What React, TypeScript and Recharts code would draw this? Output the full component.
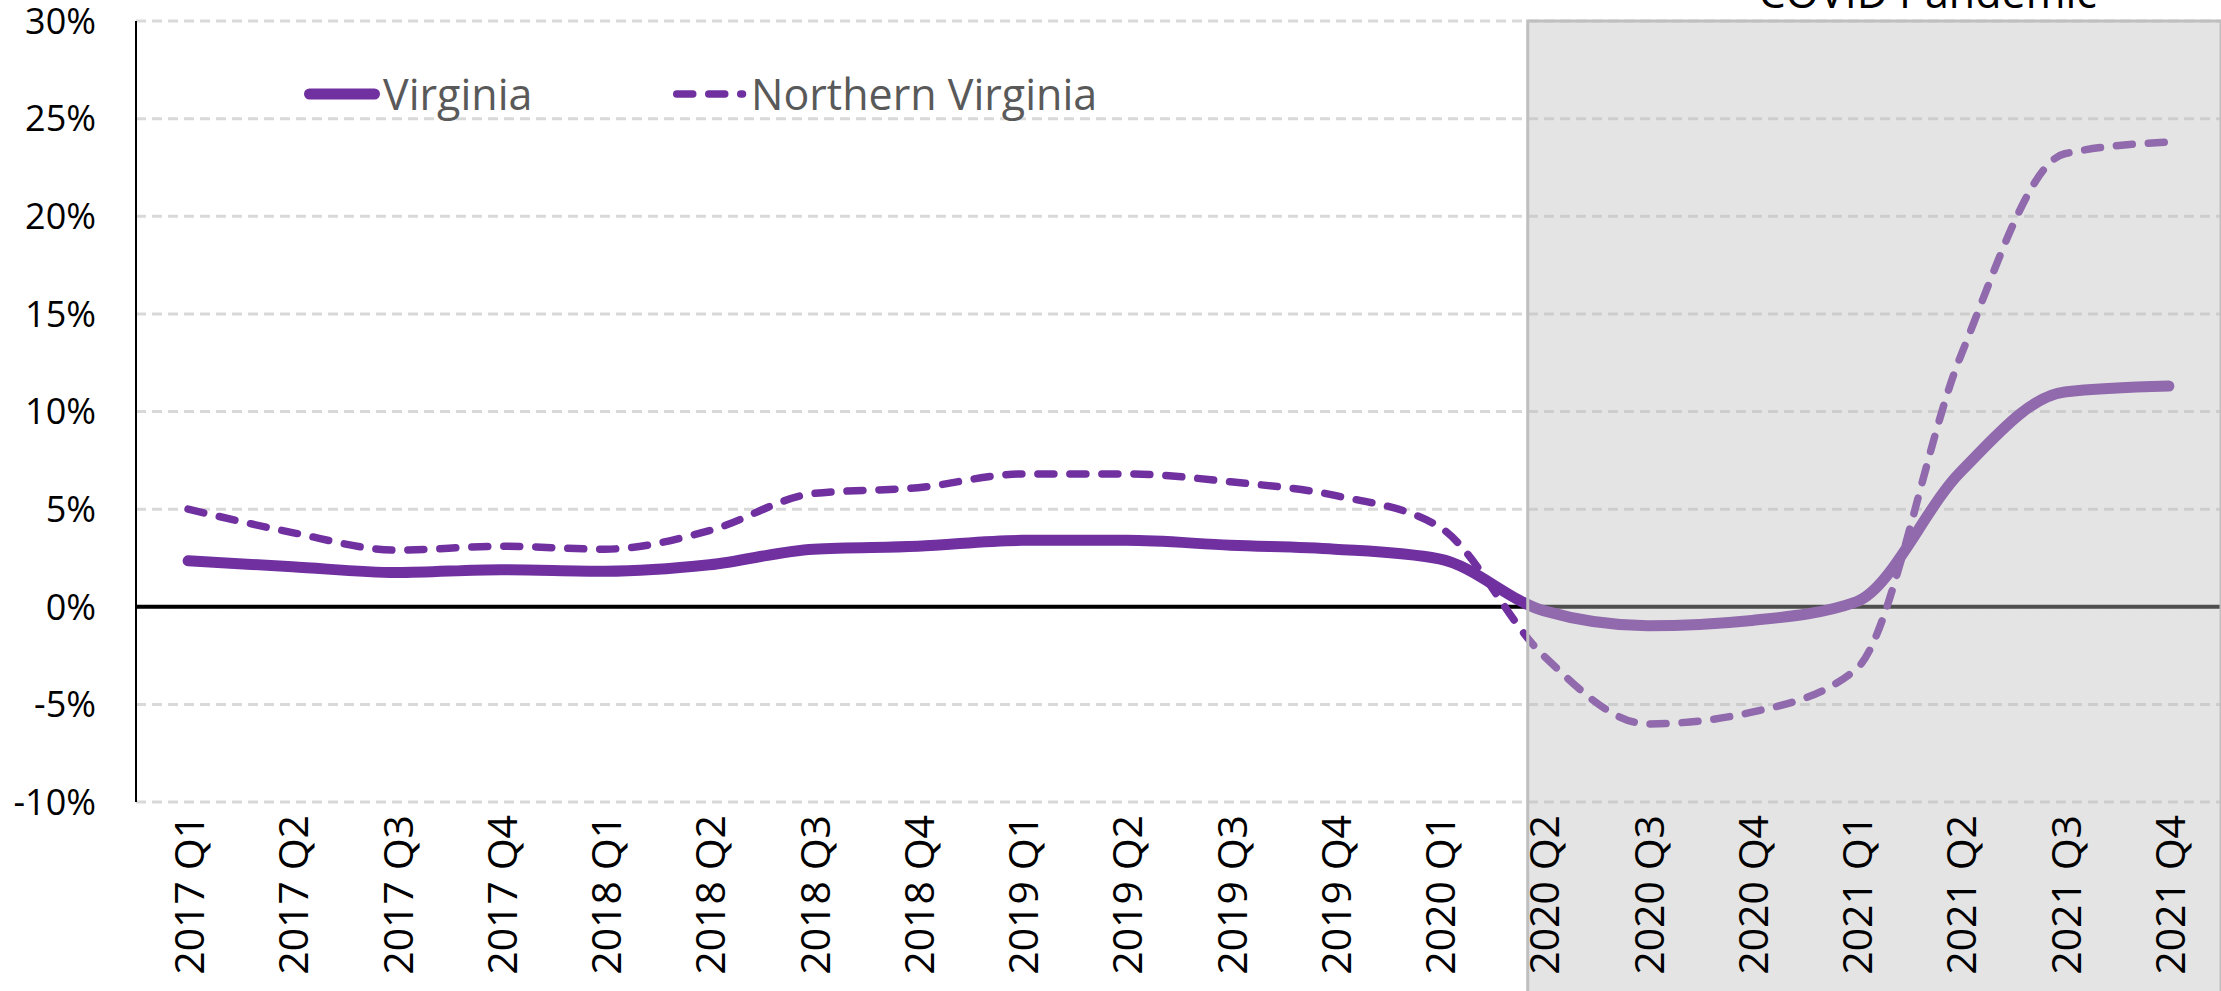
import React from 'react';
import { LineChart, Line, XAxis, YAxis, CartesianGrid, ReferenceLine, ReferenceArea, Legend } from 'recharts';

const quarters = [
  '2017 Q1', '2017 Q2', '2017 Q3', '2017 Q4',
  '2018 Q1', '2018 Q2', '2018 Q3', '2018 Q4',
  '2019 Q1', '2019 Q2', '2019 Q3', '2019 Q4',
  '2020 Q1', '2020 Q2', '2020 Q3', '2020 Q4',
  '2021 Q1', '2021 Q2', '2021 Q3', '2021 Q4',
];
const virginia = [2.35, 2.05, 1.75, 1.9, 1.82, 2.15, 2.95, 3.1, 3.4, 3.4, 3.15, 2.95, 2.45, -0.2, -0.97, -0.7, 0.25, 6.9, 11.0, 11.3];
const northernVirginia = [5.0, 3.8, 2.9, 3.1, 2.95, 3.9, 5.8, 6.1, 6.8, 6.8, 6.4, 5.7, 4.1, -2.5, -6.0, -5.4, -3.2, 12.8, 23.2, 23.8];
const yTicks = [-10, -5, 0, 5, 10, 15, 20, 25, 30];
const seriesNames = ['Virginia', 'Northern Virginia'];
const pandemicLabel = 'COVID Pandemic';
const pandemicStart = 12.85;
const pandemicEnd = 19.5;

const data = quarters.map((q, i) => ({ idx: i, q, va: virginia[i], nova: northernVirginia[i] }));
const xTicks = quarters.map((_, i) => i);

const FONT = '"Open Sans", "Noto Sans", sans-serif';
const PURPLE = '#7030A0';

const XTick = (props: any) => {
  const { x, y, payload } = props;
  return (
    <text
      x={x}
      y={y}
      transform={`rotate(-90 ${x} ${y})`}
      textAnchor="end"
      dominantBaseline="central"
      fontFamily={FONT}
      fontSize={41}
      fill="#000"
    >
      {quarters[payload.value]}
    </text>
  );
};

const LegendContent = () => (
  <div style={{ display: 'flex', alignItems: 'center', fontFamily: FONT, fontSize: 43, color: '#595959', lineHeight: 1 }}>
    <div style={{ display: 'flex', alignItems: 'center', width: 369 }}>
      <svg width={79} height={20} style={{ display: 'block' }}>
        <line x1={5.5} y1={10} x2={70.5} y2={10} stroke={PURPLE} strokeWidth={11} strokeLinecap="round" />
      </svg>
      <span>{seriesNames[0]}</span>
    </div>
    <div style={{ display: 'flex', alignItems: 'center' }}>
      <svg width={78} height={20} style={{ display: 'block' }}>
        <line x1={3.75} y1={10} x2={69.5} y2={10} stroke={PURPLE} strokeWidth={7.5} strokeLinecap="round" strokeDasharray="16 16" />
      </svg>
      <span>{seriesNames[1]}</span>
    </div>
  </div>
);

const PandemicLabel = (p: any) => {
  const vb = p.viewBox || {};
  return (
    <text x={(vb.x || 0) + 400} y={(vb.y || 0) - 13} textAnchor="middle" fontFamily={FONT} fontSize={43} fill="#000">
      {pandemicLabel}
    </text>
  );
};

export default function App() {
  return (
    <div style={{ position: 'absolute', left: 0, top: 0, width: 2221, height: 991, background: '#fff' }}>
      <LineChart width={2221} height={991} data={data} margin={{ top: 21, right: 0, bottom: 0, left: 0 }}>
        <CartesianGrid horizontal vertical={false} stroke="#D9D9D9" strokeWidth={3} strokeDasharray="10 6" />
        <YAxis
          type="number"
          domain={[-10, 30]}
          ticks={yTicks}
          interval={0}
          width={136}
          tickFormatter={(v: number) => `${v}%`}
          tick={{ fontFamily: FONT, fontSize: 36, fill: '#000' }}
          axisLine={{ stroke: '#000', strokeWidth: 2 }}
          tickLine={false}
          tickSize={0}
          tickMargin={40}
        />
        <XAxis
          dataKey="idx"
          type="number"
          domain={[-0.5, 19.5]}
          ticks={xTicks}
          interval={0}
          allowDataOverflow
          tick={<XTick />}
          axisLine={false}
          tickLine={false}
          tickSize={0}
          tickMargin={13}
          height={189}
        />
        <ReferenceLine y={0} stroke="#000" strokeWidth={4} zIndex={300} />
        <Line
          type="monotone"
          dataKey="va"
          name={seriesNames[0]}
          stroke={PURPLE}
          strokeWidth={11}
          strokeLinecap="round"
          strokeLinejoin="round"
          dot={false}
          activeDot={false}
          isAnimationActive={false}
        />
        <Line
          type="monotone"
          dataKey="nova"
          name={seriesNames[1]}
          stroke={PURPLE}
          strokeWidth={7.5}
          strokeDasharray="16 16"
          strokeLinecap="round"
          strokeLinejoin="round"
          dot={false}
          activeDot={false}
          isAnimationActive={false}
        />
        <ReferenceArea
          x1={pandemicStart}
          x2={pandemicEnd}
          y1={-21}
          y2={30}
          fill="#BEBEBE"
          fillOpacity={0.41}
          stroke="#BFBFBF"
          strokeWidth={3}
          ifOverflow="visible"
          zIndex={1500}
          label={<PandemicLabel />}
        />
        <Legend
          layout="horizontal"
          verticalAlign="middle"
          align="center"
          content={<LegendContent />}
          wrapperStyle={{ position: 'absolute', top: 72, left: 304, width: 900, height: 45 }}
        />
      </LineChart>
    </div>
  );
}
